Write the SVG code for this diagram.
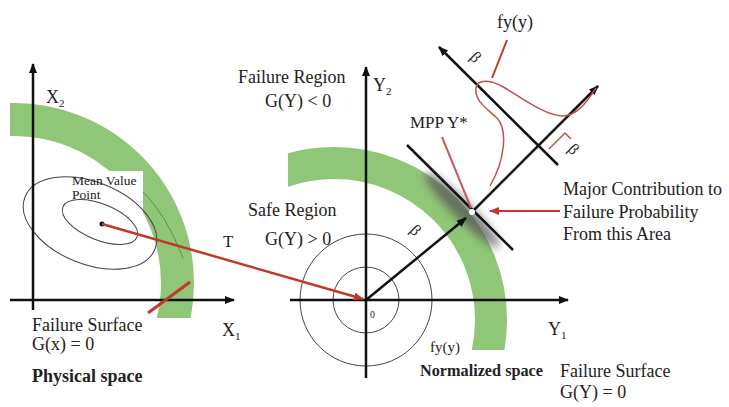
<svg xmlns="http://www.w3.org/2000/svg" width="729" height="407" viewBox="0 0 729 407">
<defs>
<style>
.t{font-family:"Liberation Serif","Times New Roman",serif;fill:#222;font-size:18px}
.b{font-weight:bold}
.s13{font-size:13.5px}
.s16{font-size:16px}
.s15{font-size:15px}
.s17{font-size:17px}
.s10{font-size:10px}
.ax{stroke:#111;stroke-width:2.5;fill:none}
.thin{stroke:#444;stroke-width:1;fill:none}
.band{fill:none;stroke:#8fc677}
.red{stroke:#c0392b;fill:none}
</style>
<marker id="ah" viewBox="0 0 10 8" refX="9" refY="4" markerWidth="10" markerHeight="8" markerUnits="userSpaceOnUse" orient="auto"><path d="M0,0 L10,4 L0,8 z" fill="#111"/></marker>
<marker id="ahr" viewBox="0 0 10 8" refX="9" refY="4" markerWidth="10" markerHeight="8" markerUnits="userSpaceOnUse" orient="auto"><path d="M0,0 L10,4 L0,8 z" fill="#c0392b"/></marker>
<clipPath id="cl"><rect x="10" y="0" width="300" height="318"/></clipPath>
<clipPath id="cr"><rect x="288" y="0" width="300" height="350"/></clipPath>
<filter id="bl" x="-50%" y="-50%" width="200%" height="200%"><feGaussianBlur stdDeviation="4"/></filter>
</defs>
<rect width="729" height="407" fill="#fff"/>

<g id="physical-space">
<circle class="band" cx="14" cy="283" r="163.5" stroke-width="33" clip-path="url(#cl)"/>
<rect x="62" y="171" width="81" height="45" fill="#fff"/>
<path d="M143,192 Q166,214 183,258" stroke="#5d8f45" stroke-width="1" fill="none"/>
<ellipse class="thin" cx="0" cy="0" rx="70" ry="41" transform="translate(90,223) rotate(22)"/>
<ellipse class="thin" cx="0" cy="0" rx="40" ry="18" transform="translate(100,222) rotate(22)"/>
<circle cx="102" cy="224" r="2.5" fill="#111"/>
<line class="ax" x1="33" y1="310" x2="33" y2="64" marker-end="url(#ah)"/>
<line class="ax" x1="10" y1="300" x2="234" y2="300" marker-end="url(#ah)"/>
<text class="t" x="46" y="103">X<tspan font-size="11" dy="4">2</tspan></text>
<text class="t" x="222" y="336">X<tspan font-size="11" dy="4">1</tspan></text>
<text class="t s13" x="72" y="185">Mean Value</text>
<text class="t s13" x="72" y="199">Point</text>
<text class="t" x="32" y="331">Failure Surface</text>
<text class="t" x="32" y="350">G(x) = 0</text>
<text class="t b" x="32" y="382">Physical space</text>
</g>

<g id="normalized-space">
<circle class="band" cx="334" cy="320" r="157" stroke-width="32" clip-path="url(#cr)"/>
<ellipse cx="0" cy="0" rx="52" ry="9" fill="#555" opacity="0.75" filter="url(#bl)" transform="translate(462,210) rotate(45)"/>
<circle class="thin" cx="366" cy="300" r="33" stroke="#555"/>
<circle class="thin" cx="366" cy="300" r="66" stroke="#555"/>
<line class="ax" x1="366" y1="378" x2="366" y2="67" marker-end="url(#ah)"/>
<line class="ax" x1="290" y1="300" x2="568" y2="300" marker-end="url(#ah)"/>
<text class="t" x="373" y="91">Y<tspan font-size="11" dy="4">2</tspan></text>
<text class="t" x="548" y="335">Y<tspan font-size="11" dy="4">1</tspan></text>
<text class="t s10" x="370" y="318">0</text>
<text class="t" x="238" y="83">Failure Region</text>
<text class="t" x="265" y="107">G(Y) &lt; 0</text>
<text class="t" x="248" y="216">Safe Region</text>
<text class="t" x="265" y="245">G(Y) &gt; 0</text>
<text class="t s15" x="430" y="352">fy(y)</text>
<text class="t b s16" x="420" y="376" textLength="123" lengthAdjust="spacingAndGlyphs">Normalized space</text>
<text class="t" x="560" y="377">Failure Surface</text>
<text class="t" x="560" y="398">G(Y) = 0</text>
</g>

<g id="mpp-detail">
<line class="ax" x1="407" y1="145" x2="513" y2="250"/>
<line class="ax" x1="558" y1="165" x2="439" y2="47" stroke-width="2" marker-end="url(#ah)"/>
<line class="ax" x1="472" y1="212" x2="598" y2="86" stroke-width="2" marker-end="url(#ah)"/>
<path d="M490,186 C505,160 508,130 497,118 C486,108 474,100 476,88 C478,78 492,80 505,88 C525,100 545,115 562,116 C578,116 588,100 596,88" stroke="#c0504d" stroke-width="1.5" fill="none"/>
<path d="M549,149 L565,133 L571,139" stroke="#c0504d" stroke-width="1.5" fill="none"/>
<text class="t" x="497" y="28">fy(y)</text>
<text class="t s17" x="410" y="128">MPP Y*</text>
<text class="t" x="563" y="195">Major Contribution to</text>
<text class="t" x="563" y="218">Failure Probability</text>
<text class="t" x="563" y="240">From this Area</text>
<text class="t s16" transform="translate(409,231) rotate(45)">β</text>
<text class="t s16" transform="translate(469,58) rotate(45)">β</text>
<text class="t s16" transform="translate(567,150) rotate(45)">β</text>
</g>

<g id="connectors">
<line x1="102" y1="224" x2="363" y2="299" class="red" stroke-width="2.5" marker-end="url(#ahr)"/>
<line x1="148" y1="313" x2="190" y2="282" class="red" stroke-width="3"/>
<line x1="366" y1="300" x2="466" y2="218" class="ax" stroke-width="2" marker-end="url(#ah)"/>
<line x1="507" y1="40" x2="492" y2="78" class="red" stroke-width="2"/>
<line x1="442" y1="137" x2="471" y2="208" stroke="#c85a5a" stroke-width="2"/>
<line x1="560" y1="211" x2="490" y2="211" class="red" stroke-width="2" marker-end="url(#ahr)"/>
<circle cx="472" cy="212" r="3" fill="#fff"/>
<text class="t s17" x="223" y="247">T</text>
</g>
</svg>
